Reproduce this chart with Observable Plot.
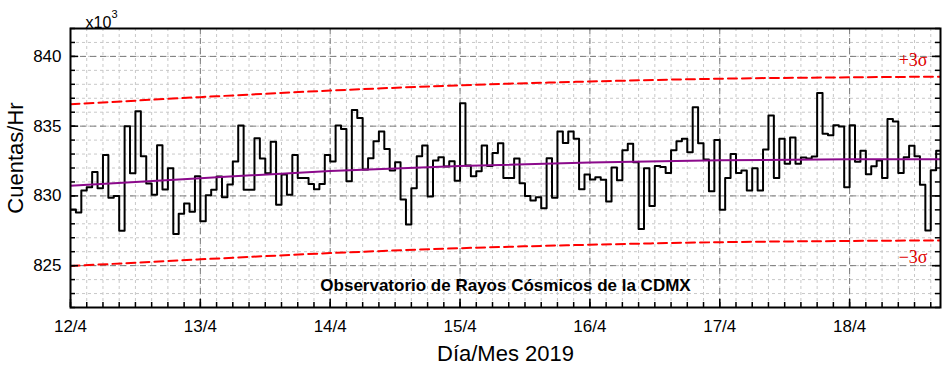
<!DOCTYPE html>
<html>
<head>
<meta charset="utf-8">
<script src="https://cdn.jsdelivr.net/npm/d3@7"></script>
<script src="https://cdn.jsdelivr.net/npm/@observablehq/plot@0.6"></script>
<style>
  html, body { margin: 0; padding: 0; background: #fff; }
  #chart svg { display: block; }
</style>
</head>
<body>
<div id="chart"></div>
<script>
// Hourly counts (x10^3 counts/hr), starting 12/4/2019 00:00
const cuentas = [
  829.03, 828.81, 830.39, 830.62, 831.72, 830.55, 832.94, 829.86, 830.00, 827.50,
  834.99, 831.63, 836.06, 832.84, 830.89, 830.08, 833.63, 830.46, 831.98, 827.26,
  828.72, 829.46, 828.86, 831.41, 828.19, 830.05, 830.44, 831.39, 829.91, 830.82,
  832.46, 835.04, 830.44, 830.44, 834.13, 832.68, 831.63, 833.89, 829.36, 831.53,
  830.08, 832.94, 831.29, 831.29, 830.86, 830.48, 830.86, 832.94, 832.46, 835.04,
  834.80, 831.05, 836.16, 835.59, 831.89, 832.70, 833.92, 834.61, 833.37, 831.82,
  832.41, 829.74, 827.95, 830.55, 832.84, 833.61, 829.96, 832.53, 832.77, 832.10,
  832.48, 831.08, 836.64, 832.18, 831.41, 831.77, 833.61, 832.14, 833.08, 833.77,
  831.29, 831.29, 832.68, 830.91, 830.00, 829.67, 829.91, 829.12, 832.70, 829.86,
  834.61, 833.80, 834.61, 834.09, 830.48, 831.53, 831.17, 831.34, 831.15, 829.60,
  832.03, 831.12, 833.28, 833.73, 832.41, 827.62, 831.98, 829.27, 832.15, 832.08,
  831.64, 833.27, 833.92, 834.09, 833.13, 836.35, 833.77, 832.61, 830.34, 834.01,
  829.00, 831.29, 833.01, 831.65, 831.82, 830.39, 831.98, 830.39, 833.32, 835.76,
  831.29, 834.09, 832.30, 834.18, 832.30, 832.75, 832.68, 832.82, 837.37, 834.46,
  834.34, 835.07, 834.98, 830.62, 835.07, 832.44, 833.23, 831.55, 832.12, 832.53,
  831.29, 835.52, 835.34, 831.64, 832.77, 833.60, 832.85, 830.80, 827.52, 831.84,
  833.23
];

// Fit curve and +/-3 sigma bands, read at these hours
const ajusteHoras = [0, 24, 48, 72, 96, 120, 144, 160.8];
const ajuste      = [830.72, 831.27, 831.78, 832.14, 832.40, 832.55, 832.62, 832.63];
const sigmaMas    = [836.57, 837.08, 837.55, 837.93, 838.20, 838.40, 838.50, 838.55];
const sigmaMenos  = [824.97, 825.45, 825.90, 826.25, 826.50, 826.68, 826.77, 826.81];

// Axis ticks
const diaTicks  = [0, 24, 48, 72, 96, 120, 144];
const diaLabels = ["12/4", "13/4", "14/4", "15/4", "16/4", "17/4", "18/4"];
const yTicks    = [825, 830, 835, 840];
const xDomain   = [0, 160.8];
const yDomain   = [822, 842];

const titulo = "Observatorio de Rayos Cósmicos de la CDMX";
const xLabel = "Día/Mes 2019";
const yLabel = "Cuentas/Hr";

// ---- build tables
const serie = cuentas.map((v, i) => ({h: i, v}));
serie.push({h: cuentas.length, v: cuentas[cuentas.length - 1]}); // close last step
const fit = ajusteHoras.map((h, i) => ({h, v: ajuste[i]}));
const up  = ajusteHoras.map((h, i) => ({h, v: sigmaMas[i]}));
const dn  = ajusteHoras.map((h, i) => ({h, v: sigmaMenos[i]}));

const minorX = d3.range(0, 162, 3);
const minorY = d3.range(822, 843, 1);

const W = 950, H = 376;
const mL = 70, mR = 10, mT = 28, mB = 69;
const pw = W - mL - mR, ph = H - mT - mB;
const font = "'Liberation Sans', Arial, Helvetica, sans-serif";
const serif = "'Liberation Serif', 'Times New Roman', serif";

const chart = Plot.plot({
  width: W, height: H,
  marginLeft: mL, marginRight: mR, marginTop: mT, marginBottom: mB,
  style: {fontFamily: font, background: "#fff", color: "#000"},
  x: {domain: xDomain},
  y: {domain: yDomain},
  marks: [
    // minor grid
    Plot.gridX(minorX, {stroke: "#c8c8c8", strokeOpacity: 1, strokeDasharray: "3,3"}),
    Plot.gridY(minorY, {stroke: "#c8c8c8", strokeOpacity: 1, strokeDasharray: "3,3"}),
    // major grid
    Plot.gridX(diaTicks, {stroke: "#7a7a7a", strokeOpacity: 1, strokeDasharray: "6,4"}),
    Plot.gridY(yTicks, {stroke: "#7a7a7a", strokeOpacity: 1, strokeDasharray: "6,4"}),
    // sigma bands
    Plot.line(up, {x: "h", y: "v", stroke: "#ff0000", strokeWidth: 2, strokeDasharray: "9,5", curve: "monotone-x", clip: true}),
    Plot.line(dn, {x: "h", y: "v", stroke: "#ff0000", strokeWidth: 2, strokeDasharray: "9,5", curve: "monotone-x", clip: true}),
    // data
    Plot.line(serie, {x: "h", y: "v", stroke: "#000", strokeWidth: 2, curve: "step-after", clip: true}),
    // fit
    Plot.line(fit, {x: "h", y: "v", stroke: "#8b0a8b", strokeWidth: 2, curve: "monotone-x", clip: true}),
    // inward ticks: bottom
    Plot.tickX(minorX, {x: d => d, stroke: "#000", strokeWidth: 1.5, insetTop: ph - 5}),
    Plot.tickX(diaTicks, {x: d => d, stroke: "#000", strokeWidth: 1.5, insetTop: ph - 8}),
    // left
    Plot.tickY(minorY, {y: d => d, stroke: "#000", strokeWidth: 1.5, insetRight: pw - 5}),
    Plot.tickY(yTicks, {y: d => d, stroke: "#000", strokeWidth: 1.5, insetRight: pw - 8}),
    // right
    Plot.tickY(minorY, {y: d => d, stroke: "#000", strokeWidth: 1.5, insetLeft: pw - 5}),
    Plot.tickY(yTicks, {y: d => d, stroke: "#000", strokeWidth: 1.5, insetLeft: pw - 8}),
    Plot.frame({stroke: "#000", strokeWidth: 2}),
    // axes labels
    Plot.axisX({ticks: diaTicks, tickFormat: d => diaLabels[diaTicks.indexOf(d)], tickSize: 0, tickPadding: 12, fontSize: 17, label: null, fill: "#000"}),
    Plot.axisY({ticks: yTicks, tickFormat: d => String(d), tickSize: 0, tickPadding: 9, fontSize: 17, label: null, fill: "#000"}),
    Plot.text([yLabel], {frameAnchor: "left", textAnchor: "middle", rotate: -90, dx: -55, dy: -10, fontSize: 22, fill: "#000"}),
    Plot.text([xLabel], {frameAnchor: "bottom", textAnchor: "middle", dy: 53, fontSize: 22, fill: "#000"}),
    Plot.text(["x10"], {frameAnchor: "top-left", textAnchor: "start", dx: 15, dy: -12, fontSize: 16, fill: "#000"}),
    Plot.text(["3"], {frameAnchor: "top-left", textAnchor: "start", dx: 41, dy: -18, fontSize: 11, fill: "#000"}),
    // title inside plot
    Plot.text([titulo], {frameAnchor: "bottom", textAnchor: "middle", dy: -17, fontSize: 17, fontWeight: "bold", fill: "#000"}),
    // sigma labels
    Plot.text(["+3σ"], {frameAnchor: "top-right", textAnchor: "end", dx: -13, dy: 25, fontSize: 18, fill: "#e00000", fontFamily: serif}),
    Plot.text(["\u22123σ"], {frameAnchor: "bottom-right", textAnchor: "end", dx: -13, dy: -45, fontSize: 18, fill: "#e00000", fontFamily: serif})
  ]
});
document.getElementById("chart").appendChild(chart);
</script>
</body>
</html>
